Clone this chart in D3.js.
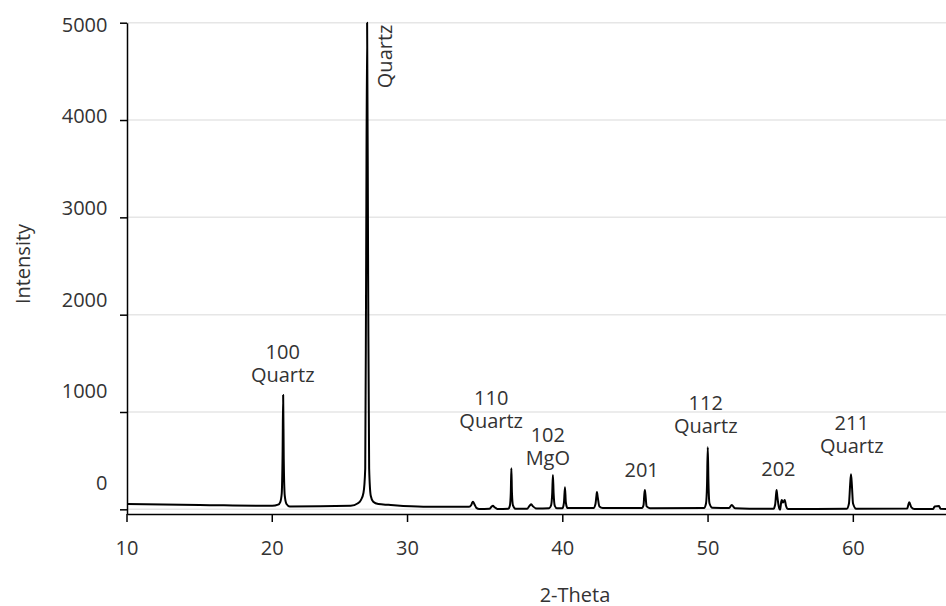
<!DOCTYPE html>
<html>
<head>
<meta charset="utf-8">
<script src="https://cdn.jsdelivr.net/npm/d3@7"></script>
<style>
  html, body { margin: 0; padding: 0; background: #fff; }
  svg { display: block; }
  text { font-family: "Open Sans", "Noto Sans", sans-serif; fill: #333; }
</style>
</head>
<body>
<svg id="chart" width="946" height="606"></svg>
<script>
// ---- data ----
const twoTheta = [
  10, 15, 20.0, 20.4, 20.55, 20.65, 20.71, 20.75, 20.79, 20.86, 20.98, 21.2,
  25.4, 25.9, 26.1, 26.28, 26.4, 26.46, 26.53, 26.6, 26.67, 26.78, 26.95, 27.3, 28.0,
  30.4, 33.55, 33.7, 33.77, 33.82, 33.9, 34.05, 34.25, 34.95, 35.1, 35.19, 35.3, 35.5,
  36.25, 36.36, 36.42, 36.46, 36.5, 36.57, 36.75, 37.55, 37.72, 37.83, 37.95, 38.2,
  39.05, 39.2, 39.27, 39.32, 39.37, 39.45, 39.6, 39.98, 40.08, 40.15, 40.21, 40.32,
  42.12, 42.25, 42.31, 42.35, 42.41, 42.52, 42.75, 45.45, 45.56, 45.61, 45.65, 45.69, 45.77, 46.0,
  49.72, 49.86, 49.93, 49.98, 50.03, 50.1, 50.3, 51.45, 51.63, 51.85,
  54.5, 54.62, 54.68, 54.72, 54.77, 54.88, 54.96, 55.04, 55.08, 55.15, 55.22, 55.28, 55.36, 55.5,
  59.55, 59.7, 59.78, 59.84, 59.9, 59.98, 60.2, 63.7, 63.85, 64.0, 64.2, 65.5, 65.6, 65.9, 66.0, 66.5
];
const intensity = [
  54, 45, 36, 48, 75, 160, 560, 1174, 520, 140, 55, 30,
  36, 62, 95, 170, 420, 2400, 5000, 2400, 420, 140, 78, 54, 46,
  27, 27, 45, 70, 78, 58, 15, 3, 5, 28, 37, 22, 4,
  6, 40, 170, 421, 170, 40, 5, 7, 38, 51, 30, 8,
  12, 45, 160, 352, 160, 35, 10, 12, 70, 226, 70, 14,
  14, 55, 130, 178, 120, 30, 14, 14, 45, 150, 198, 150, 30, 12,
  14, 60, 260, 637, 260, 60, 16, 14, 44, 12,
  5, 50, 150, 198, 130, 20, -5, 80, 96, 70, 85, 96, 40, 3,
  6, 60, 250, 360, 250, 60, 5, 8, 72, 20, 3, 4, 30, 34, 5, 3
];
const xTicks = [10, 20, 30, 40, 50, 60];
const yTicks = [0, 1000, 2000, 3000, 4000, 5000];
const annotationLines = [["100", "Quartz"], ["110", "Quartz"], ["102", "MgO"], ["201"], ["112", "Quartz"], ["202"], ["211", "Quartz"]];
const annotationX = [20.72, 35.07, 38.97, 45.43, 49.84, 54.84, 59.89];
const annotationY = [1619, 1140, 763, 404, 1095, 411, 890];
const mainPeakLabel = "Quartz";
const mainPeakLabelX = 27.76, mainPeakLabelY = 4654;
const xTitle = "2-Theta", yTitle = "Intensity";

(function () {
  // ---- layout ----
  const mLeft = 127, mRight = 946, mTop = 22.7, mBottom = 514;
  const svg = d3.select("#chart");

  const x = d3.scaleLinear().domain([10, 66.38]).range([mLeft, mRight]);
  const y = d3.scaleLinear().domain([-48, 5000]).range([mBottom, mTop]);
  // tick labels in the reference sit on a slightly compressed scale
  const yLab = d3.scaleLinear().domain([0, 5000]).range([482.7, 24]);
  const xTickShift = {30: -10};

  // gridlines
  svg.append("g").selectAll("line").data(yTicks).join("line")
    .attr("x1", mLeft).attr("x2", mRight)
    .attr("y1", d => y(d)).attr("y2", d => y(d))
    .attr("stroke", "#e6e6e6").attr("stroke-width", 1.5);

  // data line
  const pts = twoTheta.map((t, i) => [t, intensity[i]]);
  svg.append("defs").append("clipPath").attr("id", "clip")
    .append("rect").attr("x", mLeft).attr("y", 0).attr("width", mRight - mLeft).attr("height", mBottom);
  svg.append("path").datum(pts)
    .attr("clip-path", "url(#clip)")
    .attr("fill", "none").attr("stroke", "#000").attr("stroke-width", 2)
    .attr("stroke-linejoin", "round")
    .attr("d", d3.line().x(d => x(d[0])).y(d => y(d[1])).curve(d3.curveMonotoneX));

  // axes
  const fs = "20px";
  const gx = svg.append("g").attr("transform", `translate(0,${mBottom})`)
    .call(d3.axisBottom(x).tickValues(xTicks).tickSize(8).tickSizeOuter(0).tickFormat(d3.format("d")));
  gx.selectAll(".tick").attr("transform", d => `translate(${x(d) + (xTickShift[d] || 0)},0)`);
  gx.selectAll(".tick text").attr("y", 34).attr("dy", "0.35em").style("font-size", fs).attr("fill", "#333");
  gx.selectAll("line, path").attr("stroke", "#000").attr("stroke-width", 1.5);

  const gy = svg.append("g").attr("transform", `translate(${mLeft},0)`)
    .call(d3.axisLeft(y).tickValues(yTicks).tickSize(7).tickSizeOuter(0).tickFormat(d3.format("d")));
  gy.selectAll(".tick text").attr("x", -19.5).attr("y", d => yLab(d) - y(d)).attr("dy", "0.35em")
    .style("font-size", fs).attr("fill", "#333");
  gy.selectAll("line, path").attr("stroke", "#000").attr("stroke-width", 1.5);
  gx.raise();

  // axis titles
  svg.append("text").attr("x", 575).attr("y", 595).attr("dy", "0.35em")
    .attr("text-anchor", "middle").style("font-size", fs).text(xTitle);
  svg.append("text").attr("transform", "translate(22.5,264) rotate(-90)").attr("dy", "0.35em")
    .attr("text-anchor", "middle").style("font-size", fs).text(yTitle);

  // peak annotations
  annotationLines.forEach((lines, i) => {
    const t = svg.append("text").attr("text-anchor", "middle").style("font-size", fs);
    lines.forEach((s, j) => {
      t.append("tspan").attr("x", x(annotationX[i]))
        .attr("y", y(annotationY[i]) + j * 23).attr("dy", "0.35em").text(s);
    });
  });
  svg.append("text")
    .attr("transform", `translate(${x(mainPeakLabelX)},${y(mainPeakLabelY)}) rotate(-90)`)
    .attr("dy", "0.35em").attr("text-anchor", "middle").style("font-size", fs).text(mainPeakLabel);
})();
</script>
</body>
</html>
